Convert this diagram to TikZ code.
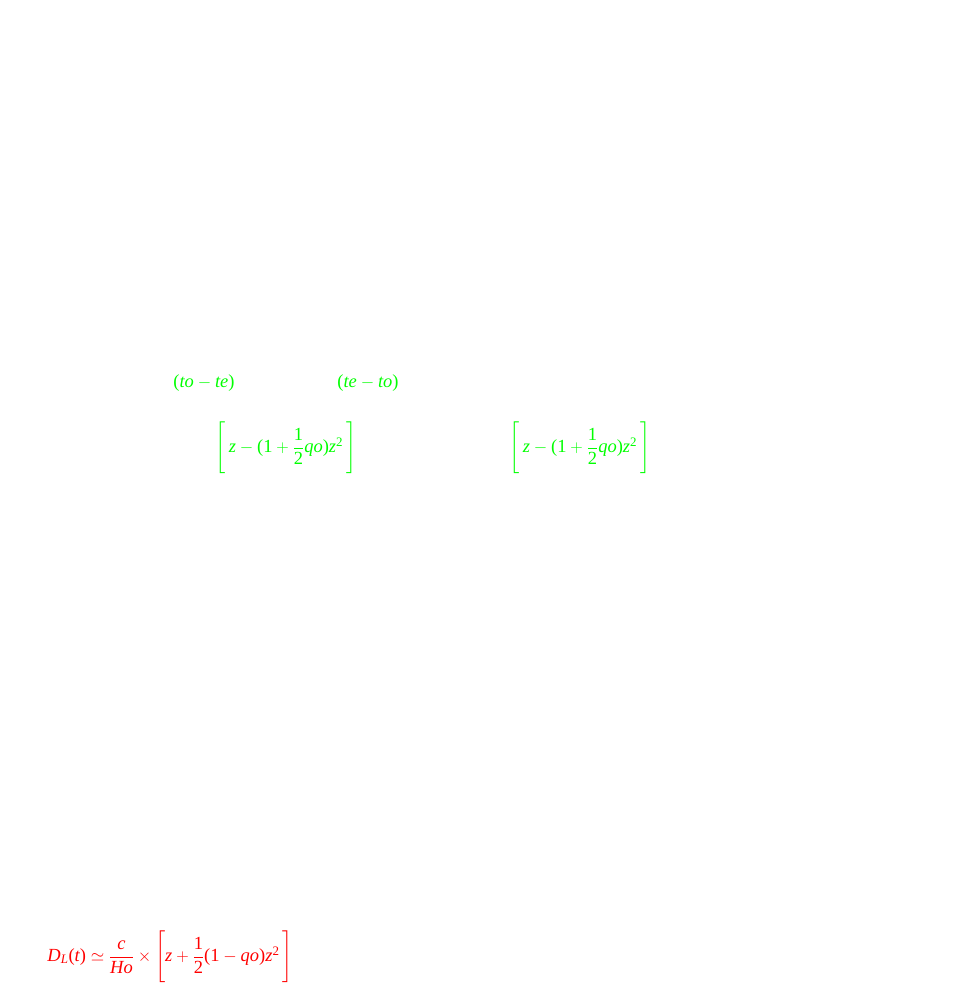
\documentclass[tikz,border=0pt]{standalone}
\usepackage{amsmath}
\usepackage{fontspec}
\setmainfont{Liberation Serif}
\definecolor{eqgreen}{RGB}{0,255,0}
\definecolor{eqred}{RGB}{255,0,0}
\newcommand{\vi}[1]{\text{\itshape #1}}
\newcommand{\up}[1]{\text{#1}}
\delimitershortfall=-4pt
\begin{document}
\begin{tikzpicture}[x=1pt,y=-1pt,
  eq/.style={inner sep=0pt,font=\fontsize{18.5}{22}\selectfont},
  greeneq/.style={eq,text=eqgreen},
  redeq/.style={eq,text=eqred}]
\useasboundingbox (0,0) rectangle (963,986);
\node[greeneq] (dtone) at (204,383) {$\up{(}\vi{to}-\vi{te}\up{)}$};
\node[greeneq] (dttwo) at (368,383) {$\up{(}\vi{te}-\vi{to}\up{)}$};
\node[greeneq] (zone) at (286,448) {$\left[\,\vi{z}-\up{(1}+\dfrac{\up{1}}{\up{2}}\vi{qo}\up{)}\vi{z}^{\up{2}}\,\right]$};
\node[greeneq] (ztwo) at (580,448) {$\left[\,\vi{z}-\up{(1}+\dfrac{\up{1}}{\up{2}}\vi{qo}\up{)}\vi{z}^{\up{2}}\,\right]$};
\node[redeq] (dl) at (170,957) {$\vi{D}_{\vi{L}}\up{(}\vi{t}\up{)}\simeq\dfrac{\vi{c}}{\vi{Ho}}\times\left[\vi{z}+\dfrac{\up{1}}{\up{2}}\up{(1}-\vi{qo}\up{)}\vi{z}^{\up{2}}\,\right]$};
\end{tikzpicture}
\end{document}
